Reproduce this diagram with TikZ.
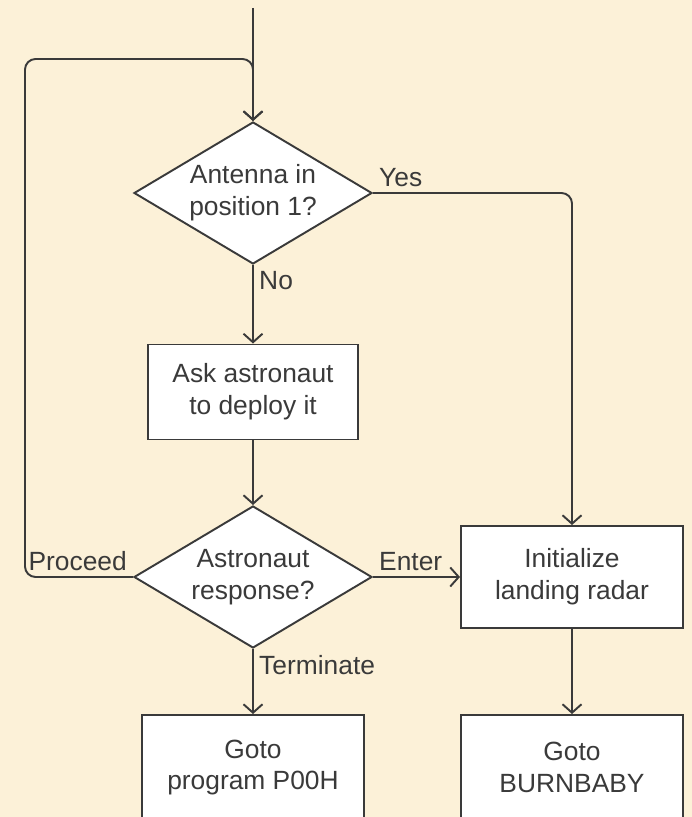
\documentclass[tikz,border=0pt]{standalone}
\usepackage{fontspec}
\setmainfont{Liberation Sans}
\usetikzlibrary{shapes.geometric,arrows.meta,positioning}
\definecolor{paper}{HTML}{FCF1D8}
\definecolor{ink}{HTML}{3A3A3A}
\tikzset{
	decision/.style={draw=ink,fill=white,diamond,aspect=1.67,inner sep=0,minimum width=4.76cm,minimum height=2.84cm,align=center,line width=1.1pt,text=ink},
	process/.style={draw=ink,fill=white,rectangle,inner sep=0,minimum width=4.44cm,minimum height=2.04cm,align=center,line width=1.1pt,text=ink},
	flow/.style={draw=ink,line width=1.1pt,rounded corners=6pt,-{Straight Barb[length=1.7mm,width=3.8mm]}},
	tag/.style={text=ink,inner sep=3pt}
}
\begin{document}
\begin{tikzpicture}[font=\fontsize{15}{18}\selectfont]
\useasboundingbox (0,0) rectangle (13.84,16.34);
\clip (0,0) rectangle (13.84,16.34);
\fill[paper] (0,0) rectangle (13.84,16.34);
\node[decision] (antenna) at (5.06,12.48) {Antenna in\\position 1?};
\node[process,minimum width=4.2cm,minimum height=1.9cm] (ask) at (5.06,8.5) {Ask astronaut\\to deploy it};
\node[decision] (response) at (5.06,4.8) {Astronaut\\response?};
\node[process] (radar) at (11.44,4.8) {Initialize\\landing radar};
\node[process,minimum height=2.1cm] (burn) at (11.44,0.99) {Goto\\BURNBABY};
\node[process,minimum height=2.1cm] (pooh) at (5.06,0.99) {Goto\\program P00H};
\coordinate (entry) at (5.06,16.18);
\coordinate (back) at (0.5,15.16);
\draw[flow] (entry) -- (antenna.north);
\draw[flow] (response.west) node[tag,above left]{Proceed} -| (back) -| (antenna.north);
\draw[flow] (antenna.east) node[tag,above right]{Yes} -| (radar.north);
\draw[flow] (antenna.south) node[tag,below right]{No} -- (ask.north);
\draw[flow] (ask) -- (response);
\draw[flow] (response.east) node[tag,above right]{Enter} -- (radar.west);
\draw[flow] (response.south) node[tag,below right]{Terminate} -- (pooh.north);
\draw[flow] (radar) -- (burn);
\end{tikzpicture}
\end{document}
